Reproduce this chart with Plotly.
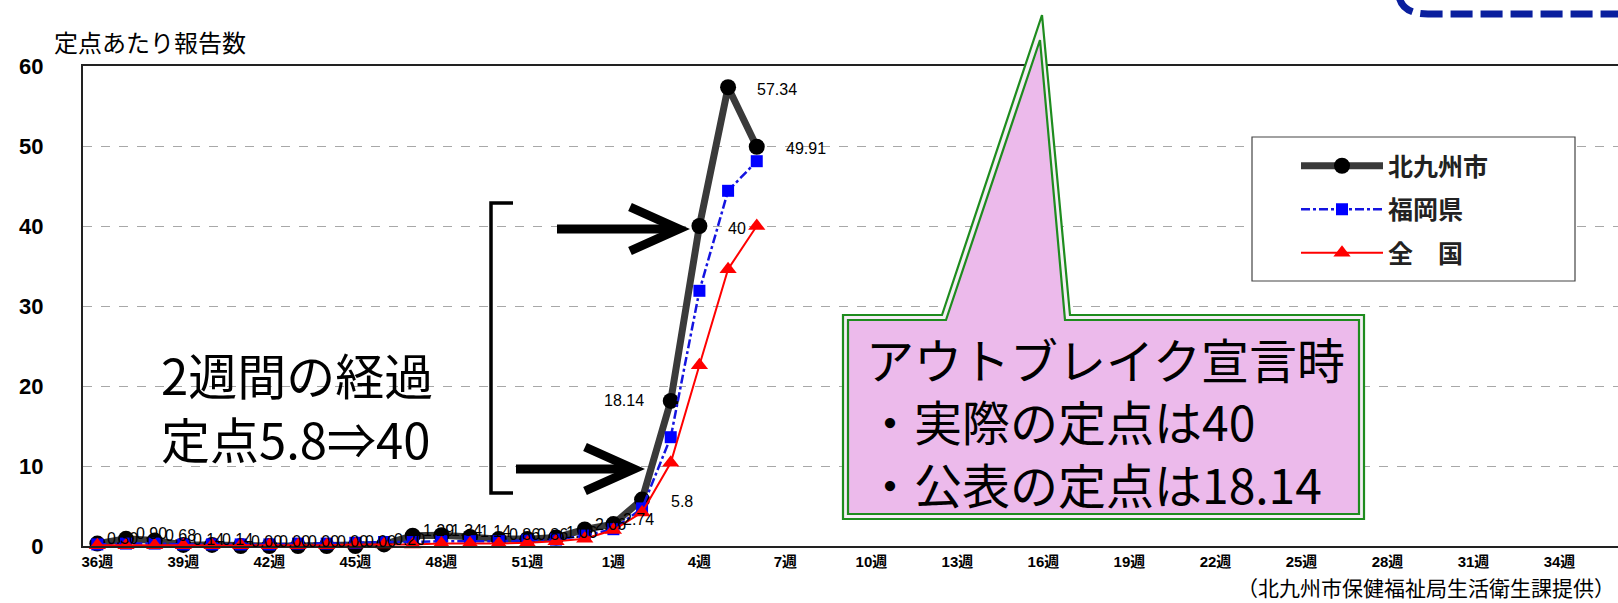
import plotly.graph_objects as go

# ---------------- data ----------------
weeks = list(range(36, 54)) + list(range(1, 36))
week_labels = [f"{w}週" for w in weeks]
tick_weeks = week_labels[::3]
y_ticks = [0, 10, 20, 30, 40, 50, 60]

kitakyushu = [0.30, 0.90, 0.68, 0.14, 0.14, 0.00, 0.00, 0.00, 0.00, 0.00, 0.20, 1.29,
              1.34, 1.14, 0.86, 0.86, 1.06, 2.06, 2.74, 5.80, 18.14, 40.00, 57.34, 49.91]
fukuoka = [0.20, 0.30, 0.30, 0.20, 0.20, 0.20, 0.20, 0.30, 0.30, 0.40, 0.50, 0.50,
           0.60, 0.60, 0.60, 0.70, 0.80, 1.30, 2.10, 4.70, 13.60, 31.90, 44.40, 48.10]
national = [0.10, 0.10, 0.10, 0.10, 0.10, 0.10, 0.10, 0.10, 0.10, 0.20, 0.20, 0.20,
            0.30, 0.30, 0.30, 0.40, 0.60, 0.90, 2.00, 4.20, 10.40, 22.60, 34.60, 40.00]
series_names = ["北九州市", "福岡県", "全　国"]

x_obs = week_labels[:len(kitakyushu)]

# ---------------- geometry helpers ----------------
W, H = 1618, 603
ML, MR, MT, MB = 83, 0, 66, 57
PW = W - ML - MR
PH = H - MT - MB
STEP = 28.67  # px per week in the reference


def px(x):
    return (x - ML) / PW


def py(y):
    return (H - MB - y) / PH


def path(points, close=False):
    s = "M " + " L ".join(f"{px(x):.5f},{py(y):.5f}" for x, y in points)
    return s + (" Z" if close else "")


JP = "Noto Sans CJK JP"
LAT = "Liberation Sans, Arial, Noto Sans CJK JP, sans-serif"

fig = go.Figure()
fig.add_trace(go.Scatter(
    x=x_obs, y=kitakyushu, name=series_names[0], mode="lines+markers",
    line=dict(color="#3a3a3a", width=7),
    marker=dict(symbol="circle", size=16, color="black"),
    cliponaxis=False, legendgroup="a"))
fig.add_trace(go.Scatter(
    x=x_obs, y=fukuoka, name=series_names[1], mode="lines+markers",
    line=dict(color="#1414e0", width=2.5, dash="dashdot"),
    marker=dict(symbol="square", size=12, color="#0000ff"),
    cliponaxis=False, legendgroup="b"))
fig.add_trace(go.Scatter(
    x=x_obs, y=national, name=series_names[2], mode="lines+markers",
    line=dict(color="#ff0000", width=2),
    marker=dict(symbol="triangle-up", size=15, color="#ff0000"),
    cliponaxis=False, legendgroup="c"))

# ---------------- data labels (北九州市) ----------------
annotations = []
for xl, v in zip(x_obs, kitakyushu):
    txt = f"{v:g}" if v >= 5 else f"{v:.2f}"
    if v >= 5:
        if 10 < v < 30:
            anchor, xs, ys = "right", -25, 0
        else:
            anchor, xs, ys = "left", 27, -2
    else:
        anchor, xs, ys = "left", 8, 5
    annotations.append(dict(x=xl, y=v, xref="x", yref="y", text=txt, showarrow=False,
                            xanchor=anchor, yanchor="middle", xshift=xs, yshift=ys,
                            font=dict(family=LAT, size=16, color="black")))

# ---------------- free text ----------------
def note(x, y, text, size, anchor="left", yanchor="middle", pad=1):
    annotations.append(dict(x=px(x), y=py(y), xref="paper", yref="paper", text=text,
                            showarrow=False, xanchor=anchor, yanchor=yanchor, align=anchor,
                            borderpad=pad,
                            font=dict(family=JP, size=size, color="black")))

note(52, 42, "定点あたり報告数", 24)
note(159, 406, "2週間の経過<br>定点5.8⇒40", 49)
note(864, 420, "アウトブレイク宣言時<br>・実際の定点は40<br>・公表の定点は18.14", 48)
note(1616, 603, "（北九州市保健福祉局生活衛生課提供）", 21, anchor="right",
     yanchor="bottom", pad=0)

# ---------------- shapes ----------------
shapes = []
# legend frame
shapes.append(dict(type="rect", xref="paper", yref="paper", x0=px(1252), x1=px(1575),
                   y0=py(281), y1=py(137), fillcolor="white",
                   line=dict(color="#444", width=1.2), layer="above"))
# bracket
shapes.append(dict(type="path", xref="paper", yref="paper",
                   path=path([(513, 203), (491, 203), (491, 493), (513, 493)]),
                   line=dict(color="black", width=3.5), layer="above"))
# arrows
for (x0, x1, y) in [(557, 676, 229), (516, 631, 469)]:
    shapes.append(dict(type="path", xref="paper", yref="paper",
                       path=path([(x0, y), (x1, y)]),
                       line=dict(color="black", width=9), layer="above"))
    shapes.append(dict(type="path", xref="paper", yref="paper",
                       path=path([(x1 - 46, y - 22), (x1 + 3, y), (x1 - 46, y + 22)]),
                       line=dict(color="black", width=9), layer="above"))
# callout (double green frame)
outer = [(843, 315), (942, 315), (1042, 15), (1070, 315), (1364, 315), (1364, 519), (843, 519)]
inner = [(848, 320), (946, 320), (1040, 40), (1065, 320), (1359, 320), (1359, 514), (848, 514)]
shapes.append(dict(type="path", xref="paper", yref="paper", path=path(outer, True),
                   fillcolor="#f6eef6", line=dict(color="#1e8c1e", width=2.2), layer="above"))
shapes.append(dict(type="path", xref="paper", yref="paper", path=path(inner, True),
                   fillcolor="#ecbaeb", line=dict(color="#1e8c1e", width=2.2), layer="above"))
# blue dashed frame corner at top right
blue = (f"M {px(1399):.5f},{py(-4):.5f} Q {px(1402):.5f},{py(14):.5f} "
        f"{px(1428):.5f},{py(14):.5f} L {px(1620):.5f},{py(14):.5f}")
shapes.append(dict(type="path", xref="paper", yref="paper", path=blue,
                   line=dict(color="#0a1f9e", width=7, dash="22px,8px"), layer="above"))

fig.update_layout(
    width=W, height=H,
    margin=dict(l=ML, r=MR, t=MT, b=MB, pad=0),
    paper_bgcolor="white", plot_bgcolor="white",
    showlegend=True,
    legend=dict(x=px(1296), y=py(143), xanchor="left", yanchor="top",
                bgcolor="rgba(0,0,0,0)", borderwidth=0, itemwidth=82,
                traceorder="grouped", tracegroupgap=8,
                font=dict(family=JP, size=25, color="#222", weight="bold")),
    annotations=annotations,
    shapes=shapes,
)
fig.update_xaxes(type="category", categoryorder="array", categoryarray=week_labels,
                 range=[-0.5, PW / STEP - 0.5],
                 tickmode="array", tickvals=tick_weeks, ticktext=tick_weeks,
                 showgrid=False, zeroline=False, showline=True, mirror=True,
                 linecolor="#222", linewidth=2, ticks="", ticklabelstandoff=1,
                 tickfont=dict(family=LAT, size=15, color="black", weight="bold"))
fig.update_yaxes(range=[0, 60], tickmode="array", tickvals=y_ticks,
                 showgrid=True, gridcolor="#a8a8a8", gridwidth=1, griddash="dash",
                 zeroline=False, showline=True, linecolor="#222", linewidth=2,
                 ticks="", ticklabelstandoff=33,
                 tickfont=dict(family=LAT, size=22, color="black", weight="bold"))

fig.write_html("out.html")
